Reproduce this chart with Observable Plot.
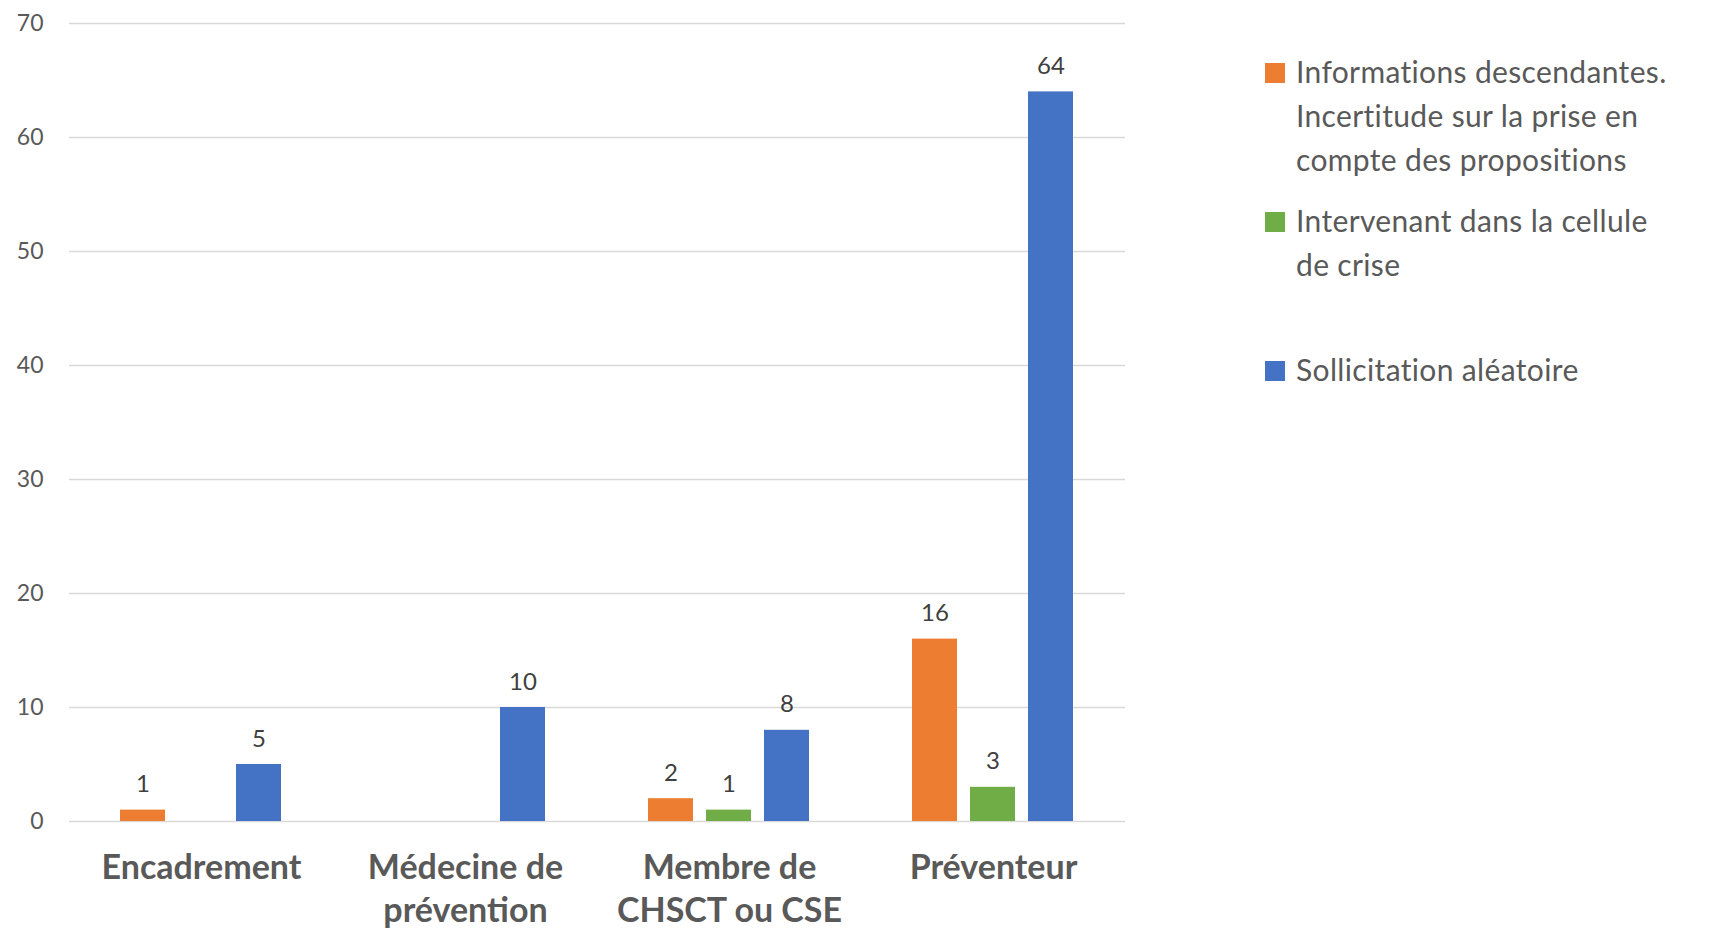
<!DOCTYPE html>
<html>
<head>
<meta charset="utf-8">
<script src="https://cdn.jsdelivr.net/npm/d3@7"></script>
<script src="https://cdn.jsdelivr.net/npm/@observablehq/plot@0.6"></script>
<style>
  html, body { margin: 0; padding: 0; background: #fff; }
  #wrap { position: relative; width: 1709px; height: 929px; overflow: hidden; font-family: Lato, sans-serif; }
  #chart { position: absolute; left: 0; top: 0; }
  #legend { position: absolute; left: 1265px; top: 49px; }
  .item { position: relative; height: 149px; }
  .sw { position: absolute; left: 0; top: 14px; width: 20px; height: 20px; }
  .lbl { position: absolute; left: 31px; top: 0; width: 440px; font-size: 30px; letter-spacing: 0.35px; line-height: 44px; color: #595959; }
</style>
</head>
<body>
<div id="wrap">
  <div id="chart"></div>
  <div id="legend"></div>
</div>
<script>
const categories = ["Encadrement", "Médecine de prévention", "Membre de CHSCT ou CSE", "Préventeur"];
const categoryLabels = ["Encadrement", "Médecine de\nprévention", "Membre de\nCHSCT ou CSE", "Préventeur"];
const series = [
  "Informations descendantes. Incertitude sur la prise en compte des propositions",
  "Intervenant dans la cellule de crise",
  "Sollicitation aléatoire"
];
const legendLabels = [
  "Informations descendantes.<br>Incertitude sur la prise en<br>compte des propositions",
  "Intervenant dans la cellule<br>de crise",
  "Sollicitation aléatoire"
];
const informations = [1, null, 2, 16];
const intervenant = [null, null, 1, 3];
const sollicitation = [5, 10, 8, 64];
const yTicks = [0, 10, 20, 30, 40, 50, 60, 70];
const seriesColors = ["#ED7D31", "#70AD47", "#4472C4"];

const valuesBySeries = [informations, intervenant, sollicitation];
const data = [];
categories.forEach((c, i) => {
  series.forEach((s, j) => {
    const v = valuesBySeries[j][i];
    if (v != null) data.push({category: c, series: s, value: v});
  });
});

const chart = Plot.plot({
  width: 1230,
  height: 929,
  marginLeft: 68,
  marginRight: 104,
  marginTop: 23,
  marginBottom: 108,
  style: {fontFamily: "Lato, sans-serif", background: "#fff"},
  fx: {domain: categories, padding: 0, label: null},
  x: {domain: series, paddingInner: 0.22, paddingOuter: 0.86, axis: null},
  y: {domain: [0, 70], label: null},
  color: {domain: series, range: seriesColors},
  marks: [
    Plot.gridY(yTicks, {stroke: "#D9D9D9", strokeOpacity: 1, strokeWidth: 1.5}),
    Plot.axisY({ticks: yTicks, tickSize: 0, tickPadding: 26, fontSize: 23, fill: "#595959", label: null}),
    Plot.axisFx({
      anchor: "bottom", tickSize: 0, tickPadding: 28, fontSize: 34, fontWeight: "bold",
      fill: "#595959", lineHeight: 1.24, label: null,
      tickFormat: d => categoryLabels[categories.indexOf(d)]
    }),
    Plot.barY(data, {fx: "category", x: "series", y: "value", fill: "series"}),
    Plot.text(data, {fx: "category", x: "series", y: "value", text: d => String(d.value),
      lineAnchor: "bottom", dy: -18, fontSize: 24, fill: "#404040"})
  ]
});
document.getElementById("chart").appendChild(chart);

const legend = document.getElementById("legend");
series.forEach((s, j) => {
  const item = document.createElement("div");
  item.className = "item";
  item.innerHTML = `<div class="sw" style="background:${seriesColors[j]}"></div><div class="lbl">${legendLabels[j]}</div>`;
  legend.appendChild(item);
});
</script>
</body>
</html>
